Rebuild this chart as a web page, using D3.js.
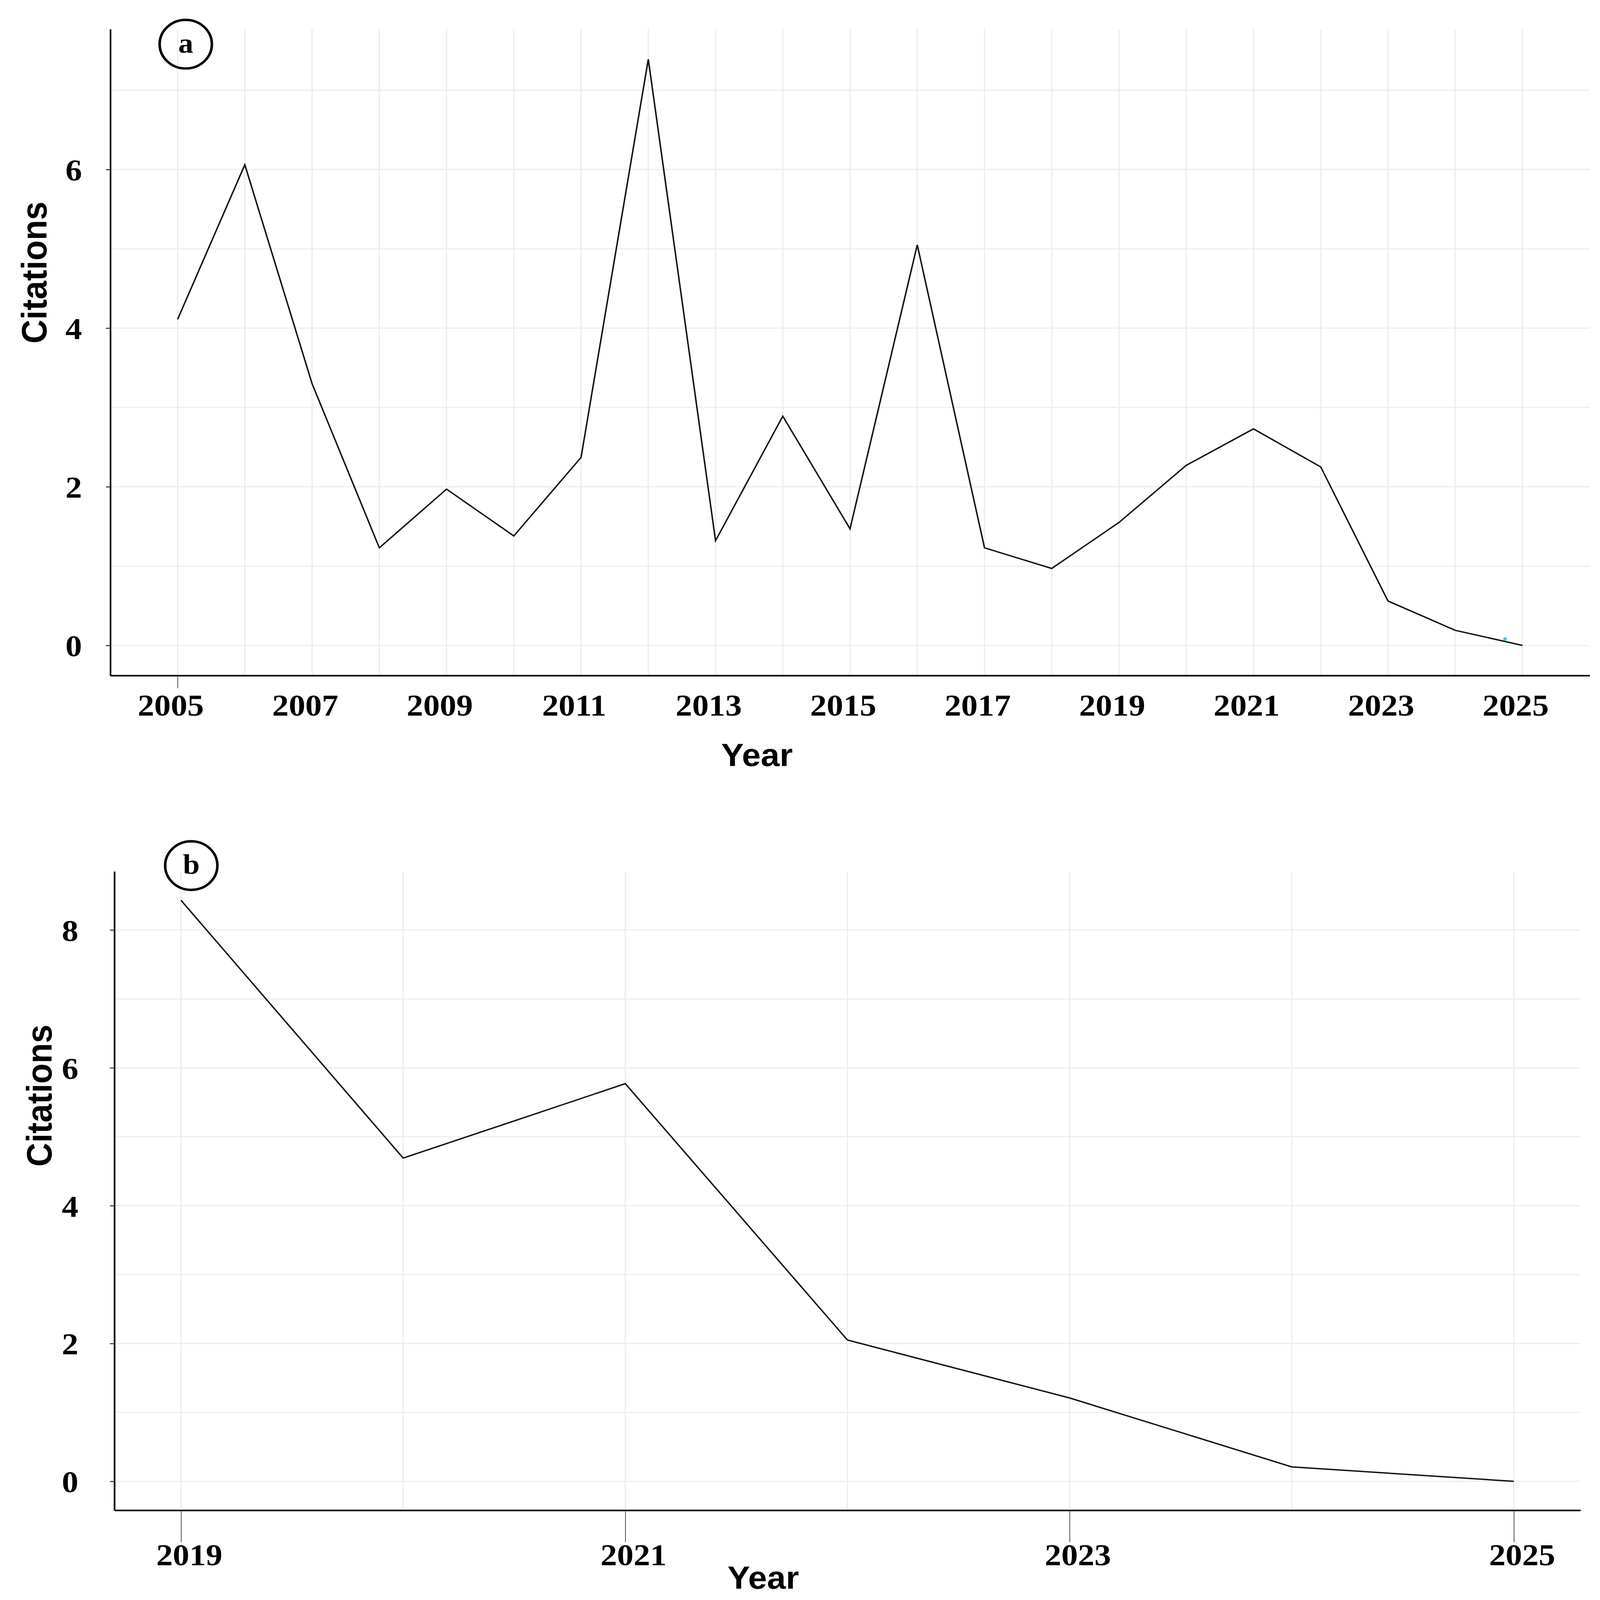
<!DOCTYPE html>
<html>
<head>
<meta charset="utf-8">
<script src="https://cdn.jsdelivr.net/npm/d3@7"></script>
<style>
  html, body { margin: 0; padding: 0; background: #fff; overflow: hidden; }
  svg { display: block; }
</style>
</head>
<body>
<svg id="chart"></svg>
<script>
/*************************************************************************/
// data

const yearsA     = [2005, 2006, 2007, 2008, 2009, 2010, 2011, 2012, 2013, 2014, 2015,
                    2016, 2017, 2018, 2019, 2020, 2021, 2022, 2023, 2024, 2025];
const citationsA = [4.11, 6.06, 3.30, 1.23, 1.97, 1.38, 2.37, 7.39, 1.32, 2.89, 1.47,
                    5.05, 1.23, 0.97, 1.55, 2.27, 2.73, 2.25, 0.56, 0.19, 0.00];
const xTicksA    = [2005, 2007, 2009, 2011, 2013, 2015, 2017, 2019, 2021, 2023, 2025];
const yTicksA    = [0, 2, 4, 6];
const yGridA     = [0, 1, 2, 3, 4, 5, 6, 7];
const strayA     = [[2024.74, 0.08]];   // small cyan speck near the end of panel a

const yearsB     = [2019, 2020, 2021, 2022, 2023, 2024, 2025];
const citationsB = [8.43, 4.69, 5.77, 2.05, 1.21, 0.21, 0.00];
const xTicksB    = [2019, 2021, 2023, 2025];
const yTicksB    = [0, 2, 4, 6, 8];
const yGridB     = [0, 1, 2, 3, 4, 5, 6, 7, 8];

/*************************************************************************/

// drawn in the figure's own 4350x4673 frame, stretched to whatever window we get
const W = 4350, H = 4673;
const svg = d3.select('#chart')
    .attr('width', '100vw').attr('height', '100vh')
    .attr('viewBox', `0 0 ${W} ${H}`)
    .attr('preserveAspectRatio', 'none');

const SERIF = '"Liberation Serif", "Times New Roman", serif';
const SANS  = '"Liberation Sans", Arial, sans-serif';

function drawPanel(cfg){
    const g = svg.append('g');

    const x = d3.scaleLinear().domain(cfg.xDomain).range([cfg.left, cfg.right]);
    const y = d3.scaleLinear().domain(cfg.yDomain).range([cfg.bottom, cfg.top]);

    // grid
    g.append('g').selectAll('line')
        .data(cfg.yGrid)
        .enter().append('line')
        .attr('x1', cfg.left).attr('x2', cfg.right)
        .attr('y1', d => y(d)).attr('y2', d => y(d))
        .attr('stroke', '#ededed').attr('stroke-width', 3.5);

    g.append('g').selectAll('line')
        .data(cfg.years)
        .enter().append('line')
        .attr('x1', d => x(d)).attr('x2', d => x(d))
        .attr('y1', cfg.top).attr('y2', cfg.bottom)
        .attr('stroke', '#ededed').attr('stroke-width', 3.5);

    // series
    const line = d3.line().x(d => x(d[0])).y(d => y(d[1]));
    g.append('path')
        .datum(d3.zip(cfg.years, cfg.values))
        .attr('d', line)
        .attr('fill', 'none')
        .attr('stroke', '#111')
        .attr('stroke-width', 4)
        .attr('stroke-linejoin', 'miter');

    if(cfg.stray){
        g.append('g').selectAll('circle')
            .data(cfg.stray)
            .enter().append('circle')
            .attr('cx', d => x(d[0])).attr('cy', d => y(d[1]))
            .attr('r', 5).attr('fill', '#3cc8d8');
    }

    // x axis
    const xAxis = g.append('g')
        .attr('transform', `translate(0,${cfg.bottom})`)
        .call(d3.axisBottom(x)
            .tickValues(cfg.xTicks)
            .tickFormat(d3.format('d'))
            .tickSize(cfg.xTickLen)
            .tickSizeOuter(0));
    xAxis.select('.domain').attr('stroke', '#000').attr('stroke-width', 4.5);
    xAxis.selectAll('.tick line')
        .attr('stroke', '#444').attr('stroke-width', 2)
        .attr('display', (d, i) => cfg.xTickAll || i === 0 ? null : 'none');
    xAxis.selectAll('.tick text')
        .attr('y', cfg.xLabelY).attr('dy', 0).attr('dx', cfg.xLabelDx)
        .style('font-family', SERIF).style('font-weight', 'bold')
        .style('font-size', '90px').attr('fill', '#000');

    // y axis
    const yAxis = g.append('g')
        .attr('transform', `translate(${cfg.left},0)`)
        .call(d3.axisLeft(y)
            .tickValues(cfg.yTicks)
            .tickFormat(d3.format('d'))
            .tickSize(12)
            .tickSizeOuter(0));
    yAxis.select('.domain').attr('stroke', '#000').attr('stroke-width', 4.5);
    yAxis.selectAll('.tick line').attr('stroke', '#333').attr('stroke-width', 3);
    yAxis.selectAll('.tick text')
        .attr('x', cfg.yLabelX).attr('dy', '0.35em')
        .style('font-family', SERIF).style('font-weight', 'bold')
        .style('font-size', '90px').attr('fill', '#000');

    // titles
    g.append('text')
        .attr('x', cfg.xTitle[0]).attr('y', cfg.xTitle[1])
        .attr('text-anchor', 'middle')
        .style('font-family', SANS).style('font-weight', 'bold').style('font-size', '92px')
        .text('Year');

    g.append('text')
        .attr('transform', `translate(${cfg.yTitle[0]},${cfg.yTitle[1]}) rotate(-90)`)
        .attr('text-anchor', 'middle')
        .style('font-family', SANS).style('font-weight', 'bold').style('font-size', '97px')
        .text('Citations');

    // panel tag
    g.append('circle')
        .attr('cx', cfg.tag[0]).attr('cy', cfg.tag[1]).attr('r', 71)
        .attr('fill', 'none').attr('stroke', '#000').attr('stroke-width', 7);
    g.append('text')
        .attr('x', cfg.tag[0]).attr('y', cfg.tag[1]).attr('dy', '0.3em')
        .attr('text-anchor', 'middle')
        .style('font-family', SERIF).style('font-weight', 'bold').style('font-size', '82px')
        .text(cfg.label);
}

/*************************************************************************/

drawPanel({
    label: 'a',
    years: yearsA, values: citationsA, stray: strayA,
    xTicks: xTicksA, yTicks: yTicksA, yGrid: yGridA,
    xDomain: [2004.0, 2026.0], yDomain: [-0.38, 7.77],
    left: 300, right: 4322, top: 85, bottom: 1973,
    xTickLen: 37, xTickAll: false, xLabelY: 117, xLabelDx: -19,
    yLabelX: -77,
    xTitle: [2058, 2237], yTitle: [126, 796],
    tag: [505, 129]
});

drawPanel({
    label: 'b',
    years: yearsB, values: citationsB, stray: null,
    xTicks: xTicksB, yTicks: yTicksB, yGrid: yGridB,
    xDomain: [2018.70, 2025.30], yDomain: [-0.42, 8.85],
    left: 311, right: 4297, top: 2545, bottom: 4411,
    xTickLen: 93, xTickAll: true, xLabelY: 160, xLabelDx: 22,
    yLabelX: -98,
    xTitle: [2075, 4640], yTitle: [140, 3200],
    tag: [520, 2528]
});
</script>
</body>
</html>
